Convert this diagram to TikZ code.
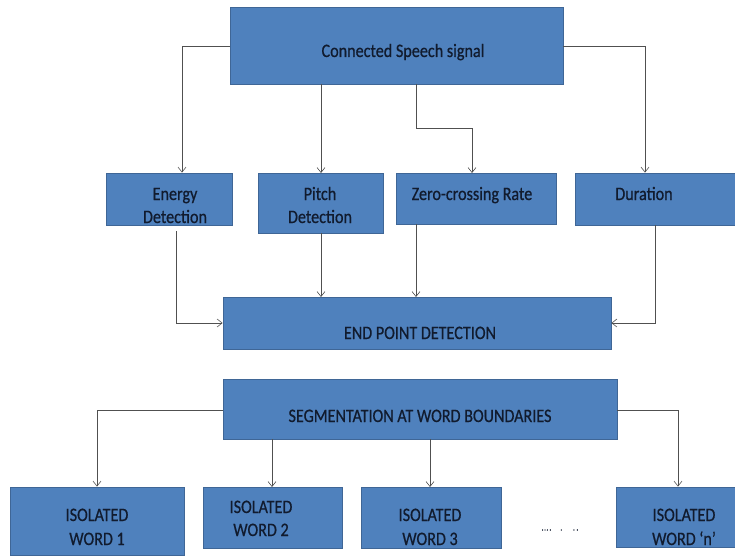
\documentclass[tikz,border=0pt]{standalone}
\usepackage{fontspec}
\setmainfont{Carlito}[FakeStretch=0.85,FakeBold=0.6]
\usetikzlibrary{arrows.meta}
\definecolor{boxfill}{HTML}{4F81BD}
\definecolor{boxline}{HTML}{3F6696}
\definecolor{txt}{HTML}{111B2E}
\definecolor{conn}{HTML}{505050}
\tikzset{
  blk/.style={draw=boxline, line width=0.8pt, fill=boxfill, inner sep=0pt},
  lbl/.style={text=txt, font=\fontsize{19}{23.5}\selectfont, anchor=base, inner sep=0pt},
  arr/.style={draw=conn, line width=0.6pt, -{Straight Barb[length=5pt,width=8pt]}},
  ln/.style={draw=conn, line width=0.6pt}
}
\newcommand{\blkbox}[5]{%
  \node[blk, minimum width={(#4-#2)*1pt}, minimum height={(#5-#3)*1pt}] (#1) at ({(#2+#4)/2},{(#3+#5)/2}) {};}
\begin{document}
\begin{tikzpicture}[x=1pt,y=-1pt]
\useasboundingbox (0,0) rectangle (735,556);
% boxes
\blkbox{top}{230}{7}{563}{84}
\blkbox{energy}{106}{173}{232}{225}
\blkbox{pitch}{258}{173}{383}{233}
\blkbox{zero}{396}{173}{556}{224}
\blkbox{dur}{575}{173}{737}{225}
\blkbox{endp}{223}{297}{611}{349}
\blkbox{seg}{223}{379}{617}{439}
\blkbox{iso1}{10}{487}{184}{555}
\blkbox{iso2}{203}{487}{342}{548}
\blkbox{iso3}{361}{487}{501}{548}
\blkbox{ison}{616}{487}{737}{547}
% labels
\node[lbl] (ttop) at (403,57) {Connected Speech signal};
\node[lbl] (te1) at (175,200) {Energy};
\node[lbl] (te2) at (175,223) {Detection};
\node[lbl] (tp1) at (320,200) {Pitch};
\node[lbl] (tp2) at (320,223) {Detection};
\node[lbl] (tz) at (472,200) {Zero-crossing Rate};
\node[lbl] (td) at (644,200) {Duration};
\node[lbl] (tend) at (420,339) {END POINT DETECTION};
\node[lbl] (tseg) at (420,422) {SEGMENTATION AT WORD BOUNDARIES};
\node[lbl] (ti1a) at (97,521) {ISOLATED};
\node[lbl] (ti1b) at (97,545) {WORD 1};
\node[lbl] (ti2a) at (261,513) {ISOLATED};
\node[lbl] (ti2b) at (261,536) {WORD 2};
\node[lbl] (ti3a) at (430,521) {ISOLATED};
\node[lbl] (ti3b) at (430,545) {WORD 3};
\node[lbl] (tina) at (684,521) {ISOLATED};
\node[lbl] (tinb) at (684,545) {WORD ‘n’};
\node[text=txt, font=\fontsize{9}{9}\selectfont, inner sep=0pt] (dots) at (560,530) {.\kern0.5pt.\kern0.5pt.\kern1pt.\quad.\quad\ .\kern1.5pt.};
% connectors from top
\coordinate (c1) at (182,46);
\draw[arr] (top.west |- c1) -- (c1) -- (c1 |- energy.north);
\draw[arr] (321,84) -- (321,173);
\draw[arr] (416,84) -- (416,128) -- (472,128) -- (472,173);
\coordinate (c4) at (645,46);
\draw[arr] (top.east |- c4) -- (c4) -- (c4 |- dur.north);
% connectors to end point
\coordinate (e1) at (176,323);
\draw[arr] (176,231) -- (e1) -- (e1 -| endp.west);
\draw[arr] (321,233) -- (321,297);
\draw[arr] (416,224) -- (416,297);
\coordinate (e4) at (655,323);
\draw[arr] (655,225) -- (e4) -- (e4 -| endp.east);
% connectors from segmentation
\coordinate (s1) at (97,410);
\draw[arr] (seg.west |- s1) -- (s1) -- (s1 |- iso1.north);
\draw[arr] (272,439) -- (272,487);
\draw[arr] (430,439) -- (430,487);
\coordinate (s4) at (678,410);
\draw[arr] (seg.east |- s4) -- (s4) -- (s4 |- ison.north);
\end{tikzpicture}
\end{document}
